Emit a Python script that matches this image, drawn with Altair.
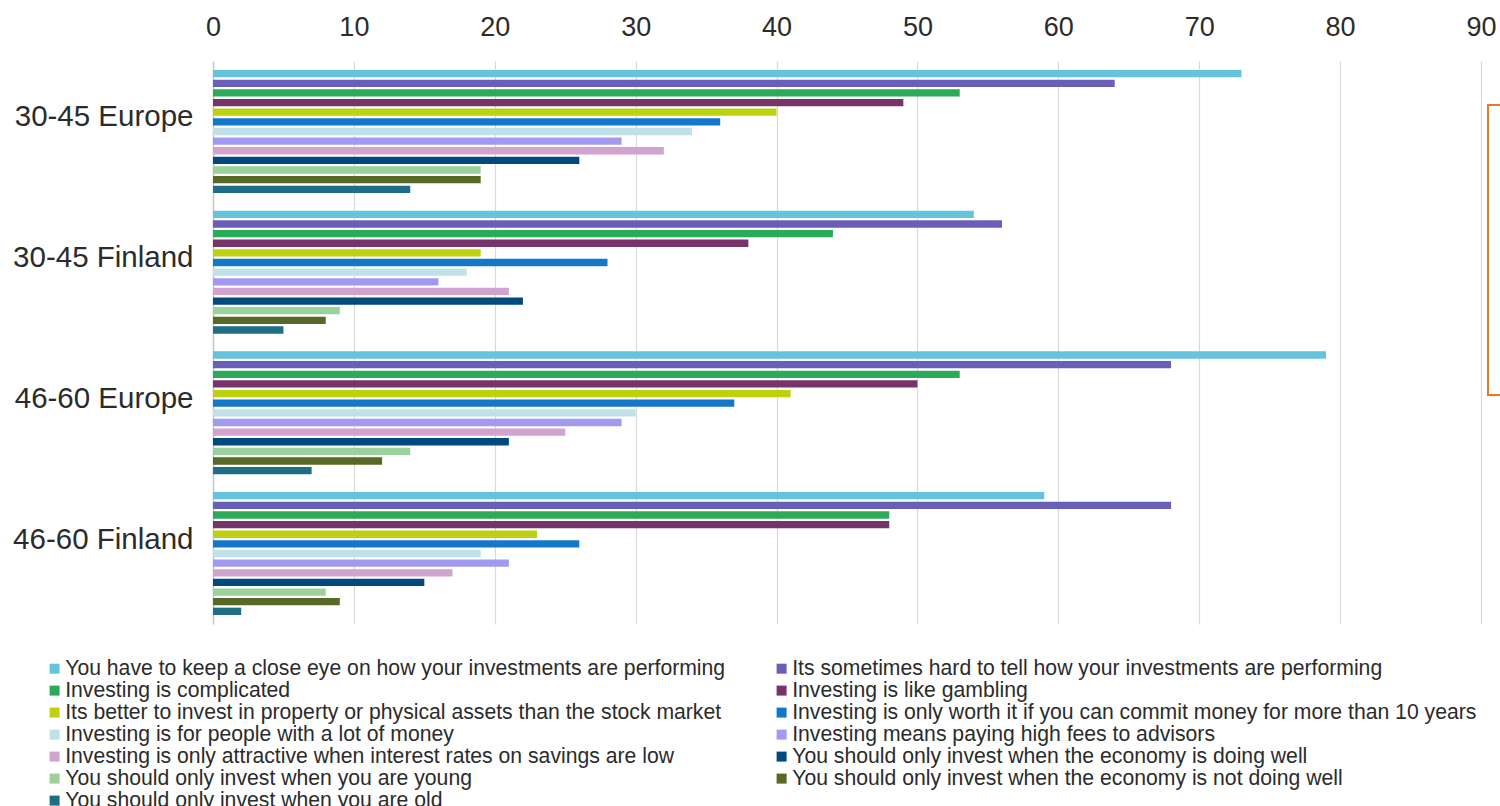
import altair as alt
import pandas as pd

# Survey groups (age band + region), top to bottom
groups = ["30-45 Europe", "30-45 Finland", "46-60 Europe", "46-60 Finland"]

# Statements, in plotting order
statements = [
    "You have to keep a close eye on how your investments are performing",
    "Its sometimes hard to tell how your investments are performing",
    "Investing is complicated",
    "Investing is like gambling",
    "Its better to invest in property or physical assets than the stock market",
    "Investing is only worth it if you can commit money for more than 10 years",
    "Investing is for people with a lot of money",
    "Investing means paying high fees to advisors",
    "Investing is only attractive when interest rates on savings are low",
    "You should only invest when the economy is doing well",
    "You should only invest when you are young",
    "You should only invest when the economy is not doing well",
    "You should only invest when you are old",
]

colors = [
    "#65C3DE", "#6A5FB8", "#2BAA5A", "#76346A", "#BED10F", "#1478C8", "#C0E1E8",
    "#A29AF0", "#D0A4CE", "#004A7E", "#9BD19A", "#586826", "#1F6E85",
]

# Share of respondents agreeing (%), one list per group, in statement order
europe_30_45 = [73, 64, 53, 49, 40, 36, 34, 29, 32, 26, 19, 19, 14]
finland_30_45 = [54, 56, 44, 38, 19, 28, 18, 16, 21, 22, 9, 8, 5]
europe_46_60 = [79, 68, 53, 50, 41, 37, 30, 29, 25, 21, 14, 12, 7]
finland_46_60 = [59, 68, 48, 48, 23, 26, 19, 21, 17, 15, 8, 9, 2]

x_ticks = [0, 10, 20, 30, 40, 50, 60, 70, 80, 90]

rows = []
for g, vals in zip(groups, [europe_30_45, finland_30_45, europe_46_60, finland_46_60]):
    for s, v in zip(statements, vals):
        rows.append({"group": g, "statement": s, "value": v})
df = pd.DataFrame(rows)

# The legend fills its two columns top-down, so list the even-numbered
# statements first and the odd-numbered ones second to read row by row.
legend_idx = list(range(0, len(statements), 2)) + list(range(1, len(statements), 2))
legend_domain = [statements[i] for i in legend_idx]
legend_range = [colors[i] for i in legend_idx]

FONT = "Liberation Sans"
TEXT = "#2B2B2B"

bars = alt.Chart(df).mark_bar().encode(
    x=alt.X(
        "value:Q",
        scale=alt.Scale(domain=[0, 90], nice=False),
        axis=alt.Axis(
            orient="top", values=x_ticks, title=None, grid=True,
            gridColor="#D9D9D9", gridWidth=1.2, ticks=False, domain=False,
            labelFlush=False, labelFontSize=27, labelPadding=20,
            labelColor=TEXT, labelFont=FONT,
        ),
    ),
    y=alt.Y(
        "group:N", sort=groups,
        scale=alt.Scale(paddingInner=0.126, paddingOuter=0.064),
        axis=alt.Axis(
            title=None, ticks=False, domain=True, domainColor="#C8C8C8",
            domainWidth=1.5, labelFontSize=29.5, labelPadding=20,
            labelOffset=-14, labelColor=TEXT, labelFont=FONT, labelLimit=400,
        ),
    ),
    yOffset=alt.YOffset(
        "statement:N", sort=statements,
        scale=alt.Scale(paddingInner=0.24, paddingOuter=0),
    ),
    color=alt.Color(
        "statement:N",
        scale=alt.Scale(domain=legend_domain, range=legend_range),
        legend=alt.Legend(
            title=None, orient="none", legendX=-169, legendY=597,
            columns=2, columnPadding=45, rowPadding=0, padding=0,
            symbolType="square", symbolSize=100, symbolStrokeWidth=0,
            labelFontSize=21.2, labelFont=FONT, labelColor=TEXT,
            labelLimit=1000, labelOffset=0,
        ),
    ),
)

# Partly visible orange frame at the right edge
frame = alt.Chart(pd.DataFrame({"k": [0]})).mark_rect(
    fill="transparent", stroke="#E8782A", strokeWidth=2
).encode(
    x=alt.value(1275), x2=alt.value(1330),
    y=alt.value(44), y2=alt.value(334),
)

chart = alt.layer(bars, frame).properties(
    width=1268, height=563,
    autosize=alt.AutoSizeParams(type="none"),
    padding={"left": 213, "top": 61, "right": 19, "bottom": 182},
    background="white",
).configure_view(stroke=None)

chart.save("out.html", embed_options={"renderer": "svg", "actions": False})
